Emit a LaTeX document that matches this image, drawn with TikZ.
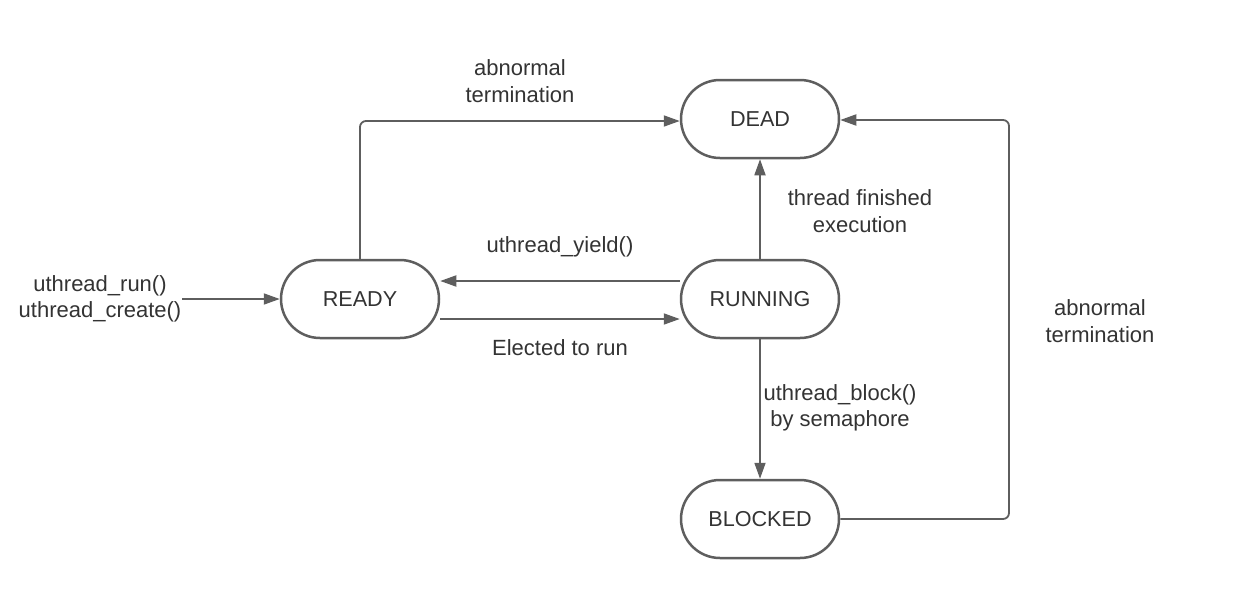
\documentclass[tikz,border=0pt]{standalone}
\usepackage{fontspec}
\setmainfont{Liberation Sans}
\usetikzlibrary{arrows.meta}
\definecolor{ln}{HTML}{5E5E5E}
\definecolor{tx}{HTML}{333333}
\begin{document}
\begin{tikzpicture}[x=1pt,y=-1pt,
 state/.style={draw=ln, line width=2.5pt, rounded corners=39pt, minimum width=158pt, minimum height=78pt, text=tx, font=\fontsize{21.6}{26}\selectfont, inner sep=0pt},
 conn/.style={draw=ln, line width=1.8pt, -{Triangle[length=16pt,width=11pt]}, rounded corners=6pt},
 lbl/.style={text=tx, font=\fontsize{22}{26.5}\selectfont, align=center, inner sep=0pt}]
\useasboundingbox (0,0) rectangle (1240,600);
\node[state] (dead) at (760,119) {DEAD};
\node[state] (ready) at (360,299) {READY};
\node[state] (running) at (760,299) {RUNNING};
\node[state] (blocked) at (760,519) {BLOCKED};
\coordinate (start) at (182,299);
\coordinate (rt) at (1009,120);
\draw[conn] (start) -- (ready.west);
\draw[conn] (ready.north) |- ([yshift=-2pt]dead.west);
\draw[conn] ([yshift=18pt]running.west) -- ([yshift=18pt]ready.east);
\draw[conn] ([yshift=-20pt]ready.east) -- ([yshift=-20pt]running.west);
\draw[conn] (running.north) -- (dead.south);
\draw[conn] (running.south) -- (blocked.north);
\draw[conn] (blocked.east) -| (rt) -- ([yshift=-1pt]dead.east);
\node[lbl] (l1) at (100,299) {uthread\_run()\\uthread\_create()};
\node[lbl] (l2) at (520,81) {abnormal\\termination};
\node[lbl] (l3) at (560,247) {uthread\_yield()};
\node[lbl] (l4) at (560,348) {Elected to run};
\node[lbl] (l5) at (860,211) {thread finished\\execution};
\node[lbl] (l6) at (840,408) {uthread\_block()\\by semaphore};
\node[lbl] (l7) at (1100,321) {abnormal\\termination};
\end{tikzpicture}
\end{document}
